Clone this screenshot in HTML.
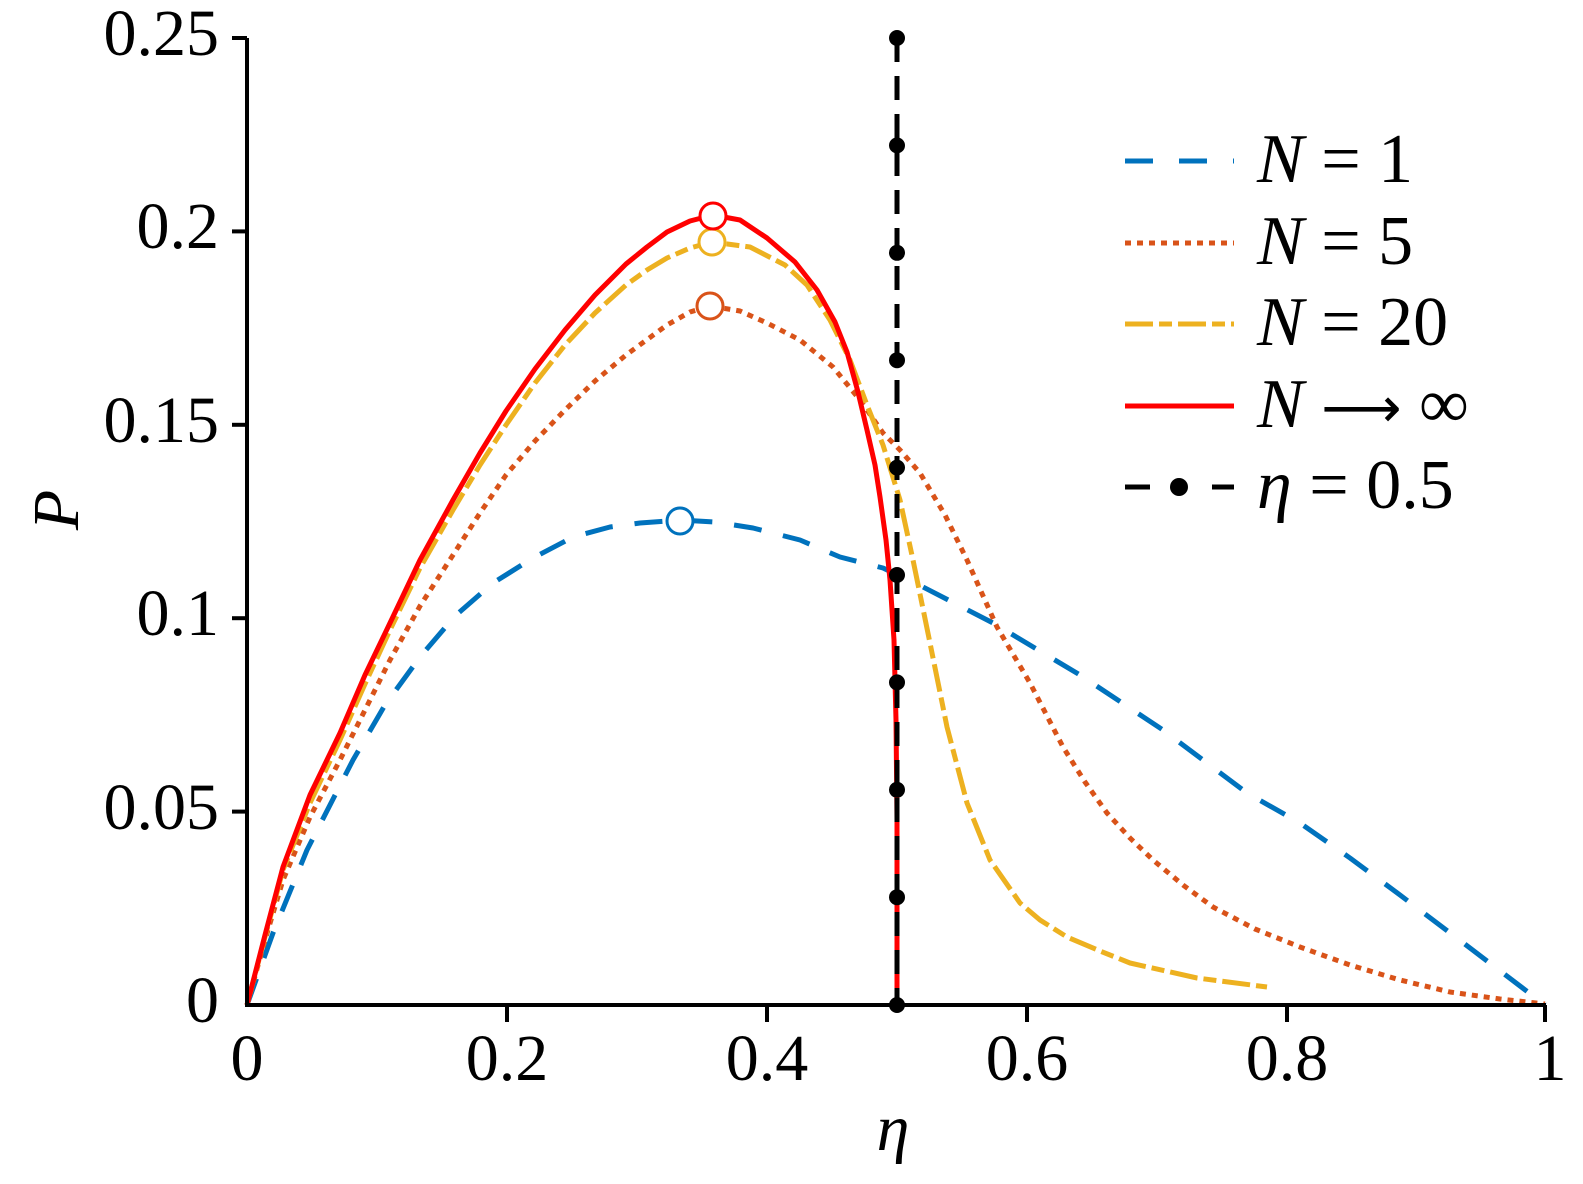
<!DOCTYPE html>
<html><head><style>body{margin:0;background:#fff}svg{display:block}text{font-family:"Liberation Serif",serif;fill:#000}</style></head>
<body>
<svg width="1583" height="1184" viewBox="0 0 1583 1184" xmlns="http://www.w3.org/2000/svg">
<g fill="none" stroke-linejoin="round" stroke-width="5">
<polyline stroke="#0072BD" stroke-dasharray="28,22" points="247,1005 273,933 307,850 353,760 385,705 420,657 455,616 493,583 533,558 573,537 610,527 640,523 680,520 715,522 753,528 800,540 840,557 883,568 923,587 993,623 1080,675 1163,730 1247,793 1300,823 1350,858 1400,895 1470,948 1545,1005"/>
<polyline stroke="#D95319" stroke-dasharray="6,6" points="247,1005 265,940 283,880 310,817 340,760 365,710 390,660 420,606 453,555 480,513 506,475 535,441 565,410 595,381 626,355 667,325 690,312 710,306 740,311 767,323 800,340 833,367 860,400 883,433 900,450 920,473 945,515 967,560 997,627 1030,683 1063,747 1085,782 1107,813 1130,838 1153,860 1183,885 1213,907 1255,929 1300,947 1350,965 1400,980 1450,992 1500,999 1545,1004"/>
<polyline stroke="#EDB120" stroke-dasharray="28,6,13,6" points="247,1005 265,937 283,870 310,803 340,740 365,684 390,630 420,568 453,510 480,465 506,425 535,383 565,345 595,313 626,285 647,270 667,258 690,248 712,242 750,247 785,265 807,285 830,320 850,360 867,405 883,445 900,500 913,560 930,643 947,727 967,803 990,860 1020,903 1040,920 1067,937 1100,951 1130,963 1197,978 1267,987"/>
<polyline stroke="#FF0000" points="247,1005 265,935 283,867 310,795 340,733 365,675 390,623 420,560 453,500 480,453 506,411 535,369 565,330 595,295 626,264 647,247 667,232 690,221 713,215 740,220 767,238 795,262 817,290 835,322 847,352 858,392 867,430 875,465 880,497 886,540 890,580 894,640 896,720 897,820 897,1005"/>
<line x1="897" y1="38" x2="897" y2="1005" stroke="#000" stroke-dasharray="24,14"/>
</g>
<g fill="#000">
<circle cx="897" cy="38" r="8"/><circle cx="897" cy="145.4" r="8"/><circle cx="897" cy="252.8" r="8"/><circle cx="897" cy="360.2" r="8"/><circle cx="897" cy="467.6" r="8"/><circle cx="897" cy="575" r="8"/><circle cx="897" cy="682.4" r="8"/><circle cx="897" cy="789.8" r="8"/><circle cx="897" cy="897.2" r="8"/><circle cx="897" cy="1005" r="8"/>
</g>
<g fill="#fff" stroke-width="3">
<circle cx="680" cy="521" r="13" stroke="#0072BD"/>
<circle cx="710" cy="306" r="13" stroke="#D95319"/>
<circle cx="712" cy="242" r="13" stroke="#EDB120"/>
<circle cx="713" cy="216" r="13" stroke="#FF0000"/>
</g>
<g stroke="#000" stroke-width="4">
<line x1="247" y1="38" x2="247" y2="1007"/><line x1="245" y1="1005" x2="1546" y2="1005"/>
<line x1="232" y1="38" x2="247" y2="38"/><line x1="232" y1="231.4" x2="247" y2="231.4"/><line x1="232" y1="424.8" x2="247" y2="424.8"/><line x1="232" y1="618.2" x2="247" y2="618.2"/><line x1="232" y1="811.6" x2="247" y2="811.6"/>
<line x1="507" y1="1005" x2="507" y2="1022"/><line x1="767" y1="1005" x2="767" y2="1022"/><line x1="1027" y1="1005" x2="1027" y2="1022"/><line x1="1287" y1="1005" x2="1287" y2="1022"/><line x1="1545" y1="1005" x2="1545" y2="1022"/>
</g>
<g font-size="66" text-anchor="end">
<text x="219" y="55">0.25</text><text x="219" y="248">0.2</text><text x="219" y="442">0.15</text><text x="219" y="635">0.1</text><text x="219" y="829">0.05</text><text x="219" y="1022">0</text>
</g>
<g font-size="66" text-anchor="middle">
<text x="247" y="1080">0</text><text x="507" y="1080">0.2</text><text x="767" y="1080">0.4</text><text x="1027" y="1080">0.6</text><text x="1287" y="1080">0.8</text><text x="1550" y="1080">1</text>
<text x="893" y="1150" font-style="italic">η</text>
<text transform="translate(78,510) rotate(-90)" font-style="italic">P</text>
</g>
<g stroke-width="5" fill="none">
<line x1="1125" y1="161" x2="1234" y2="161" stroke="#0072BD" stroke-dasharray="28,26"/>
<line x1="1125" y1="243" x2="1234" y2="243" stroke="#D95319" stroke-dasharray="6,6"/>
<line x1="1125" y1="324" x2="1234" y2="324" stroke="#EDB120" stroke-dasharray="28,6,13,6"/>
<line x1="1125" y1="406" x2="1234" y2="406" stroke="#FF0000"/>
<line x1="1125" y1="487" x2="1150" y2="487" stroke="#000"/>
<line x1="1212" y1="487" x2="1234" y2="487" stroke="#000"/>
</g>
<circle cx="1179" cy="487" r="9" fill="#000"/>
<g font-size="70">
<text x="1257" y="182"><tspan font-style="italic">N</tspan> = 1</text>
<text x="1257" y="264"><tspan font-style="italic">N</tspan> = 5</text>
<text x="1257" y="345"><tspan font-style="italic">N</tspan> = 20</text>
<text x="1257" y="427"><tspan font-style="italic">N</tspan> <tspan font-family="DejaVu Sans, sans-serif" font-size="56">⟶</tspan> ∞</text>
<text x="1257" y="508"><tspan font-style="italic">η</tspan> = 0.5</text>
</g>
</svg>
</body></html>
